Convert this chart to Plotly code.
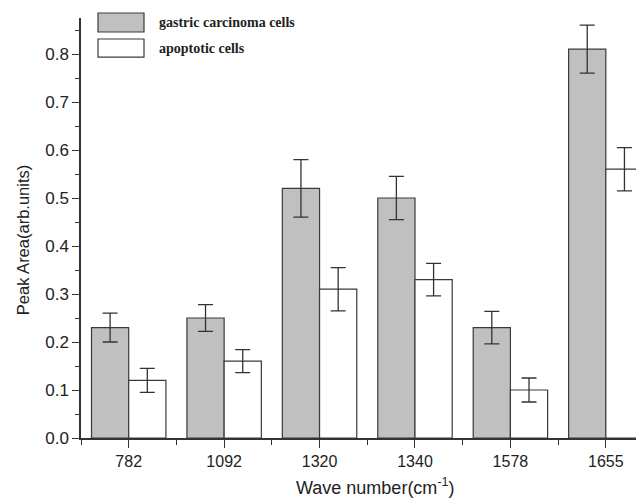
import plotly.graph_objects as go

categories = ["782", "1092", "1320", "1340", "1578", "1655"]
gastric = [0.23, 0.25, 0.52, 0.50, 0.23, 0.81]
gastric_err = [0.030, 0.028, 0.060, 0.045, 0.034, 0.050]
apoptotic = [0.12, 0.16, 0.31, 0.33, 0.10, 0.56]
apoptotic_err = [0.025, 0.024, 0.045, 0.034, 0.025, 0.045]
y_ticks = [0.0, 0.1, 0.2, 0.3, 0.4, 0.5, 0.6, 0.7, 0.8]

xpos = list(range(len(categories)))
W = 0.39

# page has an 8px body offset; figure dims compensate
FW, FH = 636, 492
L, T, B, R = 73, 10, 62.3, 0
PW, PH = FW - L - R, FH - T - B


def px(xp):  # page x -> paper
    return (xp - 8 - L) / PW


def py(yp):  # page y -> paper
    return (FH - B - (yp - 8)) / PH


fig = go.Figure()
fig.add_trace(go.Bar(
    x=xpos, y=gastric, width=W, offset=-W,
    marker=dict(color="#c0c0c0", line=dict(color="#3a3a3a", width=1.2)),
    error_y=dict(type="data", array=gastric_err, color="#333333", thickness=1.3, width=7.5),
    name="gastric carcinoma cells", showlegend=False,
))
fig.add_trace(go.Bar(
    x=xpos, y=apoptotic, width=W, offset=0,
    marker=dict(color="#ffffff", line=dict(color="#3a3a3a", width=1.2)),
    error_y=dict(type="data", array=apoptotic_err, color="#333333", thickness=1.3, width=7.5),
    name="apoptotic cells", showlegend=False,
))

sans = "Liberation Sans, Arial, sans-serif"

fig.update_layout(
    width=FW, height=FH,
    margin=dict(l=L, r=R, t=T, b=B),
    paper_bgcolor="white", plot_bgcolor="white",
    barmode="overlay",
    xaxis=dict(
        range=[-0.5, 5.4], tickmode="array", tickvals=xpos, ticktext=categories,
        ticks="outside", ticklen=8, tickwidth=1.3, tickcolor="#333",
        showline=True, linecolor="#333", linewidth=1.5, showgrid=False, zeroline=False,
        tickfont=dict(family=sans, size=16, color="#222"),
        minor=dict(tickmode="linear", tick0=0.5, dtick=1, ticks="outside", ticklen=5,
                   tickwidth=1.3, tickcolor="#333", showgrid=False),
    ),
    yaxis=dict(
        range=[0, 0.875], tickmode="array", tickvals=y_ticks,
        ticktext=[f"{v:.1f}" for v in y_ticks],
        ticks="outside", ticklen=7, tickwidth=1.3, tickcolor="#333",
        showline=True, linecolor="#333", linewidth=1.5, showgrid=False, zeroline=False,
        tickfont=dict(family=sans, size=17, color="#222"),
        minor=dict(tickmode="linear", tick0=0.05, dtick=0.1, ticks="outside", ticklen=4,
                   tickwidth=1.3, tickcolor="#333", showgrid=False),
    ),
    showlegend=False,
)

# axis titles
fig.add_annotation(text="Peak Area(arb.units)", xref="paper", yref="paper", x=px(23), y=py(240),
                   textangle=-90, showarrow=False, xanchor="center", yanchor="middle",
                   font=dict(family=sans, size=16.5, color="#222"))
fig.add_annotation(text="Wave number(cm<sup>-1</sup>)", xref="paper", yref="paper", x=px(375), y=py(486),
                   showarrow=False, xanchor="center", yanchor="middle",
                   font=dict(family=sans, size=18, color="#222"))

# custom legend
leg = [("gastric carcinoma cells", "#c0c0c0", 13, 32), ("apoptotic cells", "#ffffff", 39, 57)]
for label, col, y0, y1 in leg:
    fig.add_shape(type="rect", xref="paper", yref="paper",
                  x0=px(98), x1=px(144), y0=py(y1), y1=py(y0),
                  fillcolor=col, line=dict(color="#3a3a3a", width=1.2))
    fig.add_annotation(text=f"<b>{label}</b>", xref="paper", yref="paper",
                       x=px(157), y=py((y0 + y1) / 2),
                       showarrow=False, xanchor="left", yanchor="middle",
                       font=dict(family="Liberation Serif, Times New Roman, serif", size=14, color="#222"))

fig.write_html("out.html")
